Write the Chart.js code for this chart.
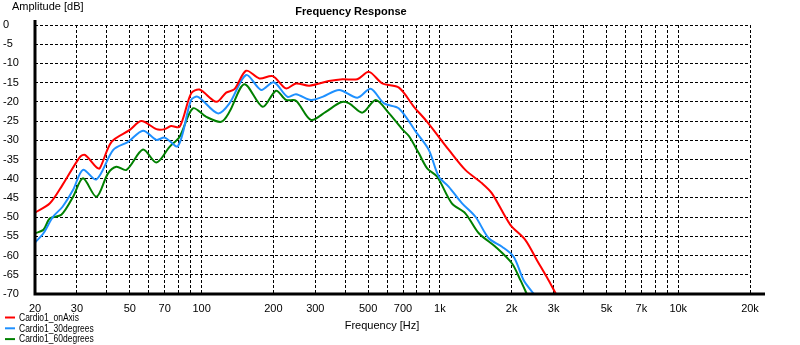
<!DOCTYPE html>
<html lang="en">
<head>
    <meta charset="UTF-8">
    <title>Frequency Response</title>
    <script src="https://cdn.jsdelivr.net/npm/chart.js"></script>
    <style>
        body {
            margin: 0;
            background: #fff;
        }
        #wrap {
            width: 800px;
            height: 345px;
        }
    </style>
</head>
<body>
    <div id="wrap">
        <canvas id="myChart" width="800" height="345"></canvas>
    </div>

    <script>
        // values (frequency in Hz, amplitude in dB)
        const onAxisFreq = [20, 23.1, 26.1, 30.9, 32.4, 36.2, 37.4, 41.9, 50, 55.9, 64.6, 70, 74.4, 80.9, 90.4, 98, 115.4, 126.8, 137.4, 153.8, 174.8, 198.7, 226, 249, 283, 341.6, 390, 450, 504, 573, 673, 778, 884, 1090, 1278, 1503, 1653, 1975, 2280, 2553, 2856, 3100];
        const onAxisDb = [-48.8, -46.4, -41.6, -34.3, -33.8, -37.0, -37.3, -30.4, -27.3, -25.0, -27.1, -27.1, -26.3, -26.5, -17.8, -16.8, -20.0, -17.6, -16.7, -11.9, -13.9, -13.3, -16.5, -15.2, -15.8, -14.6, -14.1, -14.1, -12.2, -15.2, -16.3, -21.3, -25.2, -32.5, -37.7, -41.2, -43.8, -52.0, -55.9, -61.2, -66.4, -70.5];

        const deg30Freq = [20, 21.7, 23.8, 26.1, 28.9, 31.8, 36.2, 42.6, 49.2, 56.8, 64.6, 70, 79.6, 90.4, 96.6, 117, 130.9, 153.8, 177.7, 200.8, 229.5, 249, 287.6, 321.6, 377.8, 450.6, 512, 583, 673, 793, 898, 990, 1090, 1239, 1410, 1603, 1822, 2039, 2246, 2514];
        const deg30Db = [-56.6, -54.2, -49.9, -47.3, -42.9, -37.7, -40.2, -32.5, -30.4, -27.5, -29.9, -29.3, -31.5, -19.5, -18.7, -23.0, -20.4, -13.0, -16.9, -14.9, -18.7, -18.0, -19.5, -18.7, -16.9, -18.9, -16.6, -20.4, -21.7, -27.8, -32.5, -39.5, -42.1, -46.4, -49.9, -55.5, -57.7, -60.3, -66.4, -70.5];

        const deg60Freq = [20, 21.7, 23.1, 25.8, 28.9, 31.8, 36.2, 40.5, 43.9, 48.4, 56.8, 64.6, 73.4, 80.9, 91.9, 104.6, 120.8, 130.9, 151.2, 180.4, 205.3, 226, 249, 287.6, 332, 384.4, 416, 472.8, 538, 612, 699, 741, 816, 884, 974, 1122, 1278, 1456, 1710, 2004, 2176, 2336];
        const deg60Db = [-54.2, -53.3, -50.3, -49.4, -44.7, -39.9, -44.7, -38.6, -36.9, -37.7, -32.4, -35.8, -31.7, -29.1, -21.7, -23.9, -25.2, -22.6, -15.4, -21.3, -17.1, -19.5, -19.7, -24.7, -22.6, -20.1, -20.4, -22.8, -19.5, -23.0, -27.3, -28.9, -33.4, -37.3, -39.5, -46.4, -49.0, -54.2, -57.7, -62.0, -66.4, -70.5];

        const seriesNames = ['Cardio1_onAxis', 'Cardio1_30degrees', 'Cardio1_60degrees'];

        // grid lines on x, and the ones that get a label
        const xGridTicks = [20, 30, 40, 50, 60, 70, 80, 90, 100, 200, 300, 400, 500, 600, 700, 800, 900,
            1000, 2000, 3000, 4000, 5000, 6000, 7000, 8000, 9000, 10000, 20000];
        const xLabelTicks = {20: '20', 30: '30', 50: '50', 70: '70', 100: '100', 200: '200', 300: '300',
            500: '500', 700: '700', 1000: '1k', 2000: '2k', 3000: '3k', 5000: '5k', 7000: '7k',
            10000: '10k', 20000: '20k'};

        function toPoints(xs, ys) {
            return xs.map((f, i) => ({ x: f, y: ys[i] }));
        }

        const FONT = 'Liberation Sans, Arial, sans-serif';

        // texts and heavy axis lines drawn on top of the chart
        const decorations = {
            id: 'decorations',
            afterDraw(chart) {
                const c = chart.ctx;
                const area = chart.chartArea;
                c.save();

                c.strokeStyle = '#000';
                c.lineWidth = 3;
                c.beginPath();
                c.moveTo(area.left, 20);
                c.lineTo(area.left, area.bottom + 1.5);
                c.moveTo(area.left - 1.5, area.bottom);
                c.lineTo(765, area.bottom);
                c.stroke();

                c.fillStyle = '#000';
                c.textBaseline = 'middle';
                c.font = 'bold 11px ' + FONT;
                c.textAlign = 'center';
                c.fillText('Frequency Response', 351, 12);

                c.font = '11px ' + FONT;
                c.textAlign = 'left';
                c.fillText('Amplitude [dB]', 12, 7);

                c.textAlign = 'center';
                c.fillText('Frequency [Hz]', 382, 326);

                // legend, narrow like the original
                c.textAlign = 'left';
                c.font = '10px ' + FONT;
                chart.data.datasets.forEach((ds, i) => {
                    const y = 317.5 + i * 10.8;
                    c.strokeStyle = ds.borderColor;
                    c.lineWidth = 2;
                    c.beginPath();
                    c.moveTo(5, y);
                    c.lineTo(15, y);
                    c.stroke();
                    c.fillStyle = '#000';
                    const w = c.measureText(ds.label).width;
                    c.fillText(ds.label, 19, y + 0.5, w * 0.85);
                });
                c.restore();
            }
        };

        const ctx = document.getElementById('myChart').getContext('2d');

        const myChart = new Chart(ctx, {
            type: 'line',
            data: {
                datasets: [
                    { label: seriesNames[0], data: toPoints(onAxisFreq, onAxisDb), borderColor: '#ff0000' },
                    { label: seriesNames[1], data: toPoints(deg30Freq, deg30Db), borderColor: '#1e90ff' },
                    { label: seriesNames[2], data: toPoints(deg60Freq, deg60Db), borderColor: '#008000' }
                ]
            },
            options: {
                responsive: false,
                animation: false,
                layout: {
                    padding: { left: 3, top: 25, right: 50, bottom: 0 }
                },
                elements: {
                    point: { radius: 0 },
                    line: { borderWidth: 2, tension: 0.3, fill: false }
                },
                plugins: {
                    legend: { display: false },
                    title: { display: false },
                    tooltip: { enabled: false }
                },
                scales: {
                    x: {
                        type: 'logarithmic',
                        min: 20,
                        max: 20000,
                        afterBuildTicks: (scale) => {
                            scale.ticks = xGridTicks.map(v => ({ value: v }));
                        },
                        afterFit: (scale) => {
                            scale.height = 51;
                        },
                        grid: {
                            color: '#000',
                            lineWidth: 1,
                            drawTicks: false
                        },
                        border: {
                            display: false,
                            dash: [3, 2]
                        },
                        ticks: {
                            autoSkip: false,
                            maxRotation: 0,
                            color: '#000',
                            padding: 8,
                            font: { family: FONT, size: 11 },
                            callback: (v) => xLabelTicks[v] || ''
                        }
                    },
                    y: {
                        min: -70,
                        max: 0,
                        afterFit: (scale) => {
                            scale.width = 32;
                        },
                        grid: {
                            color: '#000',
                            lineWidth: 1,
                            drawTicks: false
                        },
                        border: {
                            display: false,
                            dash: [3, 2]
                        },
                        ticks: {
                            stepSize: 5,
                            crossAlign: 'far',
                            color: '#000',
                            font: { family: FONT, size: 11 }
                        }
                    }
                }
            },
            plugins: [decorations]
        });
    </script>
</body>
</html>
